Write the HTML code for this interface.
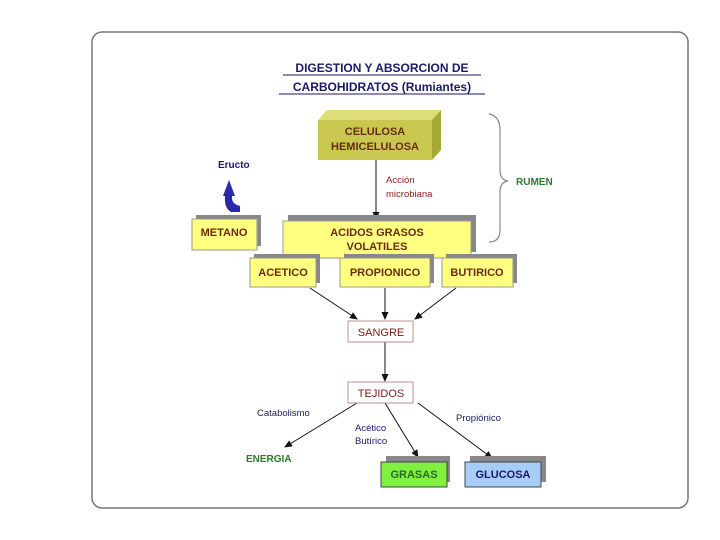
<!DOCTYPE html>
<html><head><meta charset="utf-8"><style>
html,body{margin:0;padding:0;background:#fff;}
svg{display:block;font-family:"Liberation Sans",Arial,sans-serif;}
</style></head><body>
<svg width="720" height="540" viewBox="0 0 720 540">
<defs>
<marker id="a" markerWidth="8" markerHeight="8" refX="7" refY="4" orient="auto" markerUnits="userSpaceOnUse"><path d="M0,0.5 L8,4 L0,7.5 z" fill="#111"/></marker>
</defs>
<rect x="92" y="32" width="596" height="476" rx="10" fill="#fff" stroke="#777" stroke-width="1.5"/>
<g font-weight="bold" font-size="12" fill="#1a1a66" text-anchor="middle">
<text x="382" y="72">DIGESTION Y ABSORCION DE</text>
<text x="382" y="91">CARBOHIDRATOS (Rumiantes)</text>
</g>
<line x1="283" y1="75" x2="481" y2="75" stroke="#1a1a66"/>
<line x1="279" y1="94" x2="485" y2="94" stroke="#1a1a66"/>
<!-- celulosa 3D -->
<polygon points="318,120 327,110 441,110 432,120" fill="#dede78"/>
<polygon points="432,120 441,110 441,150 432,160" fill="#a8a838"/>
<rect x="318" y="120" width="114" height="40" fill="#c8c850"/>
<g font-weight="bold" font-size="11" fill="#6b2a10" text-anchor="middle">
<text x="375" y="135">CELULOSA</text><text x="375" y="150">HEMICELULOSA</text></g>
<line x1="376" y1="160" x2="376" y2="219" stroke="#111" marker-end="url(#a)"/>
<g font-size="9.5" fill="#8b2020"><text x="386" y="183">Acción</text><text x="386" y="197">microbiana</text></g>
<path d="M489,114 Q500,116 500,130 L500,170 Q500,180 508,181 Q500,182 500,192 L500,230 Q500,242 489,242" fill="none" stroke="#888" stroke-width="1.2"/>
<text x="516" y="185" font-size="10" font-weight="bold" fill="#2a7a2a">RUMEN</text>
<text x="218" y="168" font-size="10" font-weight="bold" fill="#1a1a66">Eructo</text>
<path d="M231,212 Q224,208 225,196 L223,196 L229,180 L235,196 L232,196 Q231,204 240,206 L240,212 Z" fill="#2a2aa8"/>
<!-- yellow boxes -->
<g stroke="#999" stroke-width="1">
<rect x="196" y="215" width="65" height="31" fill="#888" stroke="none"/>
<rect x="192" y="219" width="65" height="31" fill="#ffff80"/>
<rect x="288" y="215" width="188" height="37" fill="#888" stroke="none"/>
<rect x="283" y="221" width="188" height="37" fill="#ffff80"/>
<rect x="254" y="254" width="66" height="29" fill="#888" stroke="none"/>
<rect x="250" y="258" width="66" height="29" fill="#ffff80"/>
<rect x="344" y="254" width="90" height="29" fill="#888" stroke="none"/>
<rect x="340" y="258" width="90" height="29" fill="#ffff80"/>
<rect x="446" y="254" width="71" height="29" fill="#888" stroke="none"/>
<rect x="442" y="258" width="71" height="29" fill="#ffff80"/>
</g>
<g font-weight="bold" font-size="11" fill="#6b2a10" text-anchor="middle">
<text x="224" y="236">METANO</text>
<text x="377" y="236">ACIDOS GRASOS</text><text x="377" y="250">VOLATILES</text>
<text x="283" y="276">ACETICO</text>
<text x="385" y="276">PROPIONICO</text>
<text x="477" y="276">BUTIRICO</text>
</g>
<g stroke="#111" stroke-width="1">
<line x1="310" y1="288" x2="357" y2="319" marker-end="url(#a)"/>
<line x1="385" y1="288" x2="385" y2="319" marker-end="url(#a)"/>
<line x1="456" y1="288" x2="415" y2="319" marker-end="url(#a)"/>
<line x1="385" y1="342" x2="385" y2="381" marker-end="url(#a)"/>
<line x1="357" y1="403" x2="285" y2="447" marker-end="url(#a)"/>
<line x1="385" y1="403" x2="418" y2="457" marker-end="url(#a)"/>
<line x1="418" y1="403" x2="492" y2="458" marker-end="url(#a)"/>
</g>
<rect x="348" y="321" width="65" height="21" fill="#fff" stroke="#c09090"/>
<rect x="348" y="382" width="65" height="21" fill="#fff" stroke="#c09090"/>
<g font-size="11" fill="#7a1a1a" text-anchor="middle"><text x="381" y="336">SANGRE</text><text x="381" y="397">TEJIDOS</text></g>
<g font-size="9.5" fill="#1a1a66">
<text x="257" y="416">Catabolismo</text>
<text x="355" y="431">Acético</text><text x="355" y="444">Butírico</text>
<text x="456" y="421">Propiónico</text></g>
<text x="246" y="462" font-size="10" font-weight="bold" fill="#2a7a2a">ENERGIA</text>
<rect x="386" y="456" width="64" height="26" fill="#888"/>
<rect x="381" y="462" width="66" height="25" fill="#80f040" stroke="#444"/>
<rect x="470" y="456" width="76" height="26" fill="#888"/>
<rect x="465" y="462" width="76" height="25" fill="#a8ccf8" stroke="#444"/>
<g font-weight="bold" font-size="11" text-anchor="middle"><text x="414" y="478" fill="#2a6a2a">GRASAS</text><text x="503" y="478" fill="#1a1a66">GLUCOSA</text></g>
</svg>
</body></html>
